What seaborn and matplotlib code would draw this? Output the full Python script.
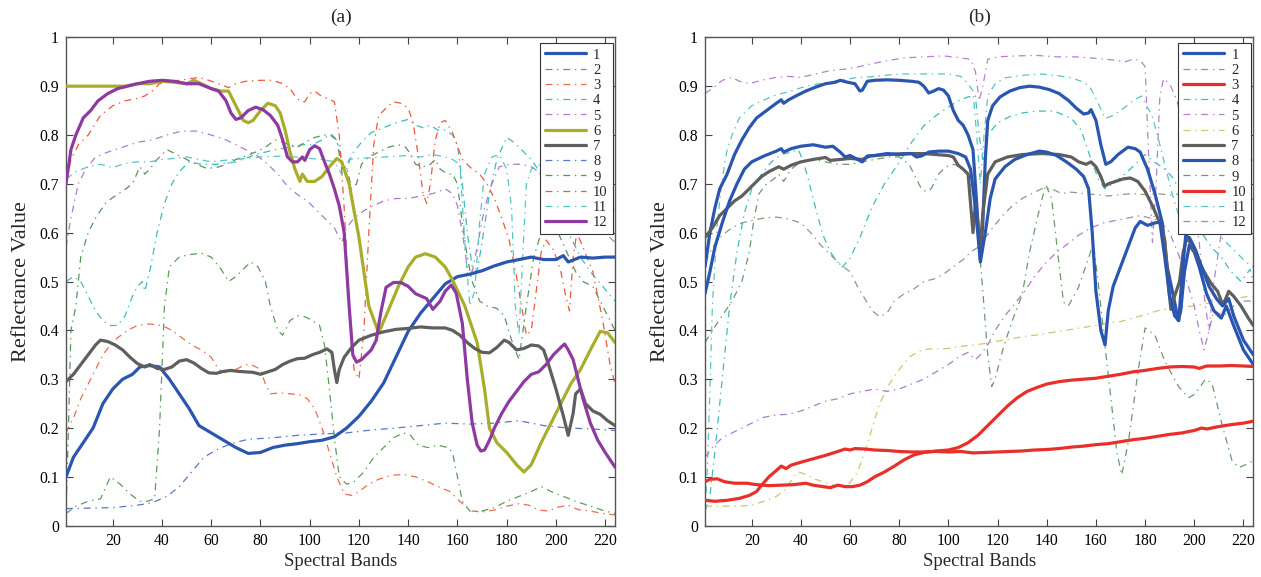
import numpy as np
import matplotlib
matplotlib.use("Agg")
import matplotlib.pyplot as plt
import seaborn as sns

# ---------------------------------------------------------------------------
# Mean spectral signatures: (band, reflectance) pairs for each class
# ---------------------------------------------------------------------------
CLASS_LABELS = [str(i) for i in range(1, 13)]
X_TICKS = [20, 40, 60, 80, 100, 120, 140, 160, 180, 200, 220]
Y_TICKS = [0, 0.1, 0.2, 0.3, 0.4, 0.5, 0.6, 0.7, 0.8, 0.9, 1.0]
Y_TICK_LABELS = ["0", "0.1", "0.2", "0.3", "0.4", "0.5", "0.6", "0.7", "0.8", "0.9", "1"]
PANEL_TITLES = ["(a)", "(b)"]

# ----- scene (a) -----
A1 = [(1, .10), (4, .14), (8, .17), (12, .20), (16, .25), (20, .28), (24, .30), (28, .31), (31, .325),
      (35, .328), (39, .325), (43, .30), (47, .27), (51, .24), (55, .205), (60, .19), (65, .175), (70, .16),
      (75, .148), (80, .15), (85, .16), (90, .165), (95, .168), (100, .172), (105, .175), (110, .182),
      (115, .20), (120, .224), (125, .255), (130, .292), (135, .345), (140, .398), (145, .435), (150, .465),
      (155, .495), (160, .51), (165, .515), (170, .522), (175, .532), (180, .54), (185, .545), (190, .55),
      (195, .545), (200, .545), (203, .553), (205, .54), (210, .55), (215, .548), (220, .55), (224, .55)]
A2 = [(1, .025), (5, .04), (10, .05), (15, .055), (19, .10), (23, .085), (27, .065), (31, .05), (34, .05),
      (37, .055), (39, .2), (41, .45), (43, .53), (47, .55), (51, .555), (56, .558), (60, .55), (64, .525),
      (67, .50), (70, .51), (73, .525), (76, .54), (79, .53), (82, .50), (84, .45), (87, .40), (89, .39),
      (92, .42), (95, .43), (98, .428), (101, .42), (104, .41), (106, .37), (108, .28), (110, .18), (112, .10),
      (115, .085), (118, .09), (122, .11), (126, .14), (130, .16), (134, .18), (138, .19), (141, .185),
      (144, .165), (148, .16), (152, .165), (156, .16), (158, .15), (160, .10), (162, .05), (165, .03),
      (170, .03), (175, .037), (180, .05), (185, .06), (190, .07), (194, .08), (198, .07), (203, .06),
      (208, .05), (214, .04), (220, .03), (224, .025)]
A3 = [(1, .19), (4, .22), (7, .26), (10, .29), (13, .32), (16, .35), (19, .37), (22, .385), (26, .40),
      (30, .41), (35, .413), (40, .41), (44, .40), (48, .385), (52, .37), (56, .36), (60, .345), (63, .32),
      (66, .312), (70, .32), (74, .33), (77, .328), (80, .32), (82, .29), (84, .27), (88, .272), (92, .27),
      (96, .268), (99, .26), (102, .24), (105, .20), (108, .15), (111, .10), (114, .065), (117, .062),
      (120, .07), (124, .085), (128, .095), (133, .103), (138, .105), (143, .10), (148, .09), (153, .078),
      (157, .07), (160, .055), (163, .04), (166, .03), (170, .028), (175, .032), (180, .04), (185, .045),
      (189, .042), (193, .032), (197, .03), (201, .038), (205, .042), (209, .033), (214, .03), (219, .025),
      (224, .022)]
A4 = [(1, .50), (4, .51), (7, .50), (10, .47), (13, .44), (16, .42), (19, .41), (22, .41), (25, .43),
      (28, .47), (30, .49), (32, .50), (33, .48), (35, .52), (38, .60), (41, .66), (44, .70), (47, .725),
      (51, .745), (56, .74), (62, .74), (70, .745), (78, .76), (86, .77), (92, .775), (97, .78), (101, .78),
      (105, .79), (108, .80), (111, .79), (113, .75), (114.5, .72), (117, .76), (121, .785), (125, .805),
      (130, .815), (135, .825), (140, .832), (143, .82), (146, .815), (149, .82), (152, .81), (155, .81),
      (158, .80), (160, .78), (162, .70), (164, .60), (166, .53), (168, .52), (170, .58), (173, .68),
      (176, .75), (180, .795), (183, .785), (186, .77), (190, .75), (194, .72), (198, .68), (202, .63),
      (206, .59), (210, .55), (214, .52), (219, .49), (224, .46)]
A5 = [(1, .57), (3, .63), (6, .70), (9, .73), (13, .755), (18, .765), (24, .775), (30, .785), (36, .79),
      (42, .80), (48, .808), (54, .808), (60, .80), (66, .79), (72, .775), (78, .76), (83, .74), (87, .72),
      (91, .695), (95, .678), (99, .665), (103, .645), (107, .625), (110, .61), (113, .58), (115, .61),
      (118, .63), (122, .645), (126, .655), (130, .665), (135, .67), (140, .67), (145, .675), (150, .68),
      (155, .69), (158, .68), (160, .655), (162, .60), (164, .53), (166, .52), (168, .57), (171, .65),
      (174, .70), (177, .735), (181, .74), (186, .74), (190, .735), (193, .725), (196, .70), (199, .685),
      (203, .67), (208, .65), (213, .63), (218, .61), (224, .58)]
A6 = [(1, .90), (10, .90), (20, .90), (25, .90), (30, .905), (35, .905), (40, .91), (45, .908), (50, .905),
      (53, .912), (56, .905), (60, .895), (64, .89), (67, .89), (70, .86), (73, .83), (75, .825), (77, .83),
      (80, .85), (83, .865), (86, .86), (88, .845), (90, .81), (92, .765), (94, .73), (96, .705), (97, .72),
      (99, .705), (102, .705), (105, .715), (108, .735), (111, .752), (113, .745), (116, .70), (120, .59),
      (124, .45), (128, .395), (131, .43), (136, .49), (140, .53), (143, .55), (147, .557), (151, .55),
      (155, .53), (158, .503), (163, .45), (168, .375), (171, .28), (173, .20), (176, .17), (180, .15),
      (184, .125), (187, .11), (190, .125), (194, .17), (198, .21), (202, .25), (206, .29), (210, .32),
      (214, .36), (218, .398), (221, .395), (224, .375)]
A7 = [(1, .295), (4, .31), (7, .33), (10, .35), (13, .37), (15, .38), (18, .377), (21, .37), (24, .36),
      (27, .345), (30, .332), (33, .325), (35, .33), (38, .322), (41, .32), (44, .325), (47, .337), (50, .34),
      (53, .333), (56, .322), (59, .313), (62, .312), (65, .316), (68, .318), (71, .316), (74, .315),
      (77, .314), (80, .31), (83, .315), (86, .32), (89, .33), (92, .337), (95, .342), (98, .343), (101, .35),
      (104, .355), (107, .362), (109, .355), (110, .32), (111, .293), (112, .32), (114, .345), (117, .365),
      (120, .38), (125, .39), (130, .397), (135, .402), (140, .404), (145, .407), (150, .405), (155, .405),
      (158, .40), (161, .39), (164, .375), (167, .363), (170, .355), (173, .354), (176, .365), (179, .38),
      (181, .375), (184, .36), (187, .363), (190, .37), (193, .368), (195, .36), (197, .33), (200, .28),
      (203, .225), (205, .185), (207, .23), (208, .27), (210, .28), (212, .25), (215, .235), (218, .228),
      (221, .215), (224, .205)]
A8 = [(1, .035), (10, .036), (20, .037), (30, .042), (36, .047), (42, .06), (47, .08), (52, .11), (57, .14),
      (62, .155), (68, .168), (75, .177), (85, .18), (95, .185), (105, .188), (115, .19), (125, .196),
      (135, .20), (145, .205), (155, .21), (165, .208), (175, .21), (185, .215), (195, .205), (205, .20),
      (215, .198), (224, .195)]
A9 = [(1, .03), (2, .2), (3, .4), (5, .45), (7, .55), (10, .60), (13, .63), (17, .66), (20, .672), (24, .685),
      (28, .70), (31, .735), (33, .72), (35, .73), (38, .75), (42, .77), (46, .76), (50, .75), (54, .74),
      (58, .732), (62, .733), (66, .74), (70, .75), (74, .757), (78, .765), (82, .775), (86, .79), (89, .785),
      (92, .78), (95, .775), (98, .785), (102, .795), (106, .80), (109, .80), (111, .79), (113, .73),
      (115, .735), (117, .69), (119, .70), (121, .74), (124, .755), (128, .765), (132, .775), (136, .78),
      (139, .775), (141, .76), (143, .74), (146, .735), (149, .74), (151, .75), (153, .73), (156, .72),
      (158, .72), (160, .70), (162, .62), (164, .55), (166, .50), (169, .46), (172, .45), (176, .445),
      (179, .43), (182, .38), (185, .34), (188, .45), (191, .55), (194, .60), (197, .61), (200, .61),
      (204, .565), (208, .52), (211, .50), (215, .49), (219, .45), (224, .40)]
A10 = [(1, .70), (3, .75), (6, .78), (10, .80), (15, .84), (20, .86), (25, .87), (30, .875), (33, .88),
       (36, .89), (39, .905), (43, .91), (47, .912), (51, .915), (55, .918), (59, .912), (63, .905),
       (67, .897), (70, .905), (74, .91), (80, .912), (85, .912), (89, .905), (92, .895), (94, .88), (96, .87),
       (98, .868), (100, .885), (102, .89), (104, .882), (107, .875), (110, .868), (112, .80), (114, .65),
       (116, .45), (118, .32), (120, .30), (122, .40), (124, .60), (126, .78), (128, .84), (131, .855),
       (134, .868), (137, .865), (140, .855), (142, .825), (144, .76), (146, .68), (147.5, .66), (149, .70),
       (151, .79), (153, .825), (155, .83), (158, .805), (162, .75), (166, .73), (169, .72), (172, .70),
       (175, .67), (178, .63), (181, .585), (184, .51), (186, .45), (188, .39), (190, .40), (192, .48),
       (194, .56), (196, .585), (199, .565), (202, .52), (204, .47), (205.5, .44), (207, .55), (208.5, .60),
       (211, .57), (215, .52), (219, .42), (222, .33), (224, .29)]
A11 = [(1, .71), (5, .725), (10, .735), (15, .74), (20, .733), (25, .742), (30, .745), (35, .745), (40, .75),
       (45, .752), (50, .755), (55, .75), (60, .745), (65, .748), (70, .75), (80, .755), (90, .757),
       (100, .752), (105, .75), (110, .745), (113, .72), (116, .75), (120, .752), (130, .755), (140, .758),
       (145, .755), (150, .76), (155, .755), (158, .75), (161, .74), (163, .58), (165, .45), (167, .48),
       (169, .62), (171, .72), (174, .755), (177, .76), (180, .73), (182, .65), (183.5, .45), (185, .39),
       (186.5, .55), (188, .70), (190, .73), (194, .74), (200, .735), (205, .72), (210, .73), (215, .72),
       (219, .70), (222, .67), (224, .64)]
A12 = [(1, .70), (3, .77), (5, .80), (8, .835), (11, .85), (14, .87), (18, .885), (22, .895), (26, .90),
       (30, .905), (35, .91), (40, .912), (45, .91), (50, .905), (55, .905), (60, .895), (63, .89), (66, .87),
       (68, .845), (70, .832), (72, .835), (75, .85), (78, .857), (81, .852), (84, .84), (87, .82), (89, .79),
       (91, .755), (93, .745), (95, .745), (97, .755), (98, .748), (100, .77), (102, .778), (104, .772),
       (106, .745), (108, .72), (110, .69), (112, .655), (114, .60), (116, .45), (117.5, .35), (119, .335),
       (121, .34), (123, .35), (125, .36), (127, .38), (129, .44), (131, .488), (134, .498), (137, .498),
       (140, .49), (143, .475), (147.5, .465), (150, .443), (153, .46), (155, .48), (157.5, .493),
       (159.5, .476), (162, .414), (164, .30), (166, .21), (168, .165), (169.5, .153), (171, .155),
       (173, .175), (175, .20), (178, .23), (181, .255), (184, .275), (187, .295), (190, .31), (193, .315),
       (196, .33), (199, .35), (202, .365), (203.5, .372), (205, .36), (207, .34), (209, .30), (211, .26),
       (214, .21), (217, .175), (220, .15), (224, .12)]

# ----- scene (b) -----
B1 = [(1, .53), (3, .60), (5, .65), (7, .69), (10, .72), (13, .76), (16, .79), (19, .815), (22, .835),
      (26, .85), (30, .865), (32, .872), (33, .865), (35, .872), (38, .88), (42, .89), (46, .898), (50, .905),
      (54, .908), (56, .912), (59, .908), (62, .905), (64, .89), (65, .892), (67, .91), (70, .912), (75, .913),
      (80, .912), (85, .91), (88, .908), (90, .90), (92, .886), (94, .89), (96, .895), (98, .892), (100, .88),
      (102, .85), (104, .83), (106, .82), (108, .80), (110, .77), (111.5, .66), (113, .545), (114, .62),
      (115, .75), (116, .83), (118, .86), (121, .878), (125, .89), (129, .897), (133, .90), (137, .898),
      (141, .893), (145, .885), (149, .87), (152, .855), (155, .843), (157, .845), (158, .852), (160, .83),
      (162, .78), (164, .74), (166, .745), (169, .76), (173, .775), (176, .772), (178, .765), (181, .73),
      (184, .68), (187, .62), (189, .53), (191.5, .47), (193.5, .42), (194.5, .44), (196, .52), (198, .575),
      (200, .56), (202, .53), (205, .475), (208, .44), (211, .425), (213, .45), (216, .41), (220, .36),
      (224, .33)]
B2 = [(1, .54), (4, .57), (8, .595), (12, .61), (16, .62), (20, .625), (25, .63), (30, .632), (35, .628),
      (40, .62), (44, .60), (48, .575), (52, .555), (56, .535), (60, .52), (63, .49), (66, .465), (69, .44),
      (72, .428), (75, .435), (78, .46), (82, .475), (86, .485), (90, .50), (94, .505), (98, .515), (102, .53),
      (106, .545), (109, .56), (112, .57), (115, .59), (118, .61), (122, .635), (126, .655), (130, .67),
      (134, .68), (138, .69), (142, .69), (146, .68), (150, .683), (155, .68), (160, .678), (165, .675),
      (170, .678), (175, .68), (180, .678), (185, .68), (190, .677), (195, .68), (200, .675), (205, .675),
      (210, .672), (215, .672), (220, .67), (224, .668)]
B3 = [(1, .09), (3, .095), (6, .096), (9, .09), (13, .087), (18, .087), (22, .084), (27, .082), (32, .083),
      (37, .084), (42, .087), (45, .083), (49, .08), (52, .078), (55, .083), (58, .08), (61, .08), (64, .083),
      (67, .09), (70, .10), (74, .11), (78, .122), (82, .135), (86, .145), (90, .15), (95, .153), (100, .155),
      (104, .16), (108, .17), (112, .185), (116, .205), (120, .225), (124, .245), (128, .262), (132, .275),
      (136, .283), (140, .29), (145, .295), (150, .298), (155, .30), (160, .302), (165, .306), (170, .31),
      (175, .315), (180, .318), (185, .322), (190, .325), (195, .326), (200, .325), (202, .322), (205, .327),
      (210, .327), (215, .328), (220, .327), (224, .326)]
B4 = [(1, .03), (3, .06), (5, .15), (8, .30), (11, .45), (14, .56), (17, .64), (20, .69), (24, .72),
      (28, .745), (32, .76), (36, .765), (39, .77), (41, .745), (43, .71), (46, .65), (49, .595), (52, .56),
      (55, .54), (57, .53), (60, .548), (64, .59), (69, .653), (74, .70), (80, .744), (85, .785), (90, .819),
      (95, .84), (100, .857), (104, .87), (108, .878), (111, .88), (112.5, .80), (114, .75), (116, .80),
      (120, .825), (125, .838), (130, .845), (136, .849), (143, .849), (150, .834), (154, .81), (158, .75),
      (161, .71), (163.7, .69), (167, .70), (171.8, .72), (176, .74), (180, .76), (184, .744), (188, .73),
      (191, .714), (195, .68), (199, .64), (203, .60), (207, .57), (211, .55), (215, .52), (219, .50),
      (222.7, .525), (224, .50)]
B5 = [(1, .885), (4, .895), (8, .912), (12, .918), (15, .91), (19, .905), (24, .912), (30, .918), (35, .92),
      (40, .918), (46, .925), (52, .932), (58, .935), (62, .938), (68, .945), (75, .952), (82, .958),
      (90, .96), (98, .962), (105, .958), (109, .955), (111, .93), (112.5, .87), (114, .90), (116, .955),
      (120, .96), (128, .962), (136, .963), (144, .96), (152, .96), (160, .957), (168, .953), (172, .95),
      (175, .955), (178, .953), (180, .94), (181.5, .75), (183, .58), (184.5, .70), (186, .88),
      (187.5, .915), (190, .905), (193, .87), (196, .80), (199, .70), (202, .58), (204.5, .45), (206, .40),
      (208, .50), (211, .60), (214, .66), (218, .70), (221, .73), (224, .75)]
B6 = [(1, .04), (5, .04), (10, .04), (15, .04), (20, .042), (25, .05), (30, .06), (34, .075), (37, .10),
      (39, .11), (42, .105), (46, .095), (50, .088), (54, .082), (57, .08), (60, .088), (63, .11), (66, .15),
      (69, .20), (72, .25), (76, .29), (80, .32), (84, .345), (88, .357), (92, .362), (96, .362), (100, .363),
      (105, .367), (110, .37), (115, .373), (120, .378), (125, .382), (130, .387), (135, .39), (140, .394),
      (145, .398), (150, .402), (155, .406), (160, .41), (165, .415), (170, .418), (175, .425), (180, .432),
      (185, .44), (190, .445), (195, .448), (200, .45), (205, .455), (210, .46), (215, .463), (220, .468),
      (224, .47)]
B7 = [(1, .59), (4, .61), (7, .635), (10, .65), (13, .665), (16, .675), (18, .685), (21, .70), (24, .715),
      (27, .725), (31, .735), (33, .73), (36, .738), (40, .745), (45, .75), (50, .754), (52, .748), (56, .75),
      (60, .752), (65, .75), (68, .757), (75, .76), (82, .762), (90, .762), (95, .76), (100, .758),
      (102, .755), (104, .738), (106, .73), (108, .72), (109, .66), (110, .60), (111, .66), (112, .62),
      (113, .57), (114, .64), (116, .72), (119, .745), (124, .755), (130, .76), (138, .762), (145, .76),
      (150, .755), (153, .745), (156, .74), (158, .745), (160, .735), (162, .715), (163.5, .695), (165, .70),
      (168, .705), (171, .71), (174, .712), (177, .705), (180, .685), (183, .655), (186, .62), (188, .585),
      (189.5, .49), (190.5, .443), (192, .47), (194, .50), (195.5, .56), (197, .59), (199, .575), (201, .55),
      (204, .52), (207, .495), (209.5, .48), (211, .46), (212, .455), (214, .48), (216, .47), (219, .45),
      (222, .425), (224, .41)]
B8 = [(1, .475), (3, .52), (5, .57), (8, .62), (11, .665), (14, .70), (17, .73), (20, .745), (25, .757),
      (30, .767), (32, .772), (33, .765), (36, .772), (40, .777), (45, .78), (50, .775), (53, .777),
      (56, .765), (58, .755), (60, .758), (63, .75), (65, .745), (67, .757), (70, .758), (75, .762),
      (80, .76), (85, .762), (87, .755), (89, .757), (92, .765), (96, .767), (100, .767), (104, .762),
      (107, .755), (109, .73), (111, .65), (113, .54), (115, .60), (117, .67), (119, .71), (123, .735),
      (127, .75), (132, .76), (137, .767), (140, .765), (144, .758), (148, .745), (152, .73), (155, .715),
      (157, .69), (158.5, .60), (160, .48), (162, .40), (163.7, .37), (165, .44), (167, .49), (170, .53),
      (173, .57), (176, .61), (178, .623), (181, .615), (184, .62), (186, .622), (188, .55), (190, .47),
      (192, .43), (193.7, .42), (195, .51), (196.5, .593), (198, .59), (200.5, .565), (203, .53), (206, .49),
      (209, .465), (211.5, .45), (214, .465), (216, .43), (220, .38), (224, .35)]
B9 = [(1, .375), (4, .40), (8, .43), (12, .46), (16, .50), (19, .56), (21, .63), (23, .68), (26, .70),
      (29, .71), (31, .72), (33, .705), (36, .73), (40, .745), (45, .75), (50, .745), (55, .74), (60, .74),
      (65, .745), (70, .75), (76, .755), (80, .755), (84, .74), (87, .71), (89, .69), (91, .684), (93, .69),
      (96, .72), (99, .735), (102, .74), (105, .735), (108, .72), (110, .68), (112, .60), (114, .48),
      (116, .35), (117.6, .285), (119, .30), (121, .34), (123, .375), (126, .42), (130, .473), (133, .56),
      (136.6, .639), (139.6, .699), (142, .669), (144.7, .548), (146.8, .458), (148.8, .45), (152.9, .488),
      (157, .548), (159, .578), (161, .495), (163.7, .367), (166.4, .247), (168.5, .15), (170.5, .104),
      (173.2, .172), (177.3, .322), (180, .405), (184, .39), (188, .337), (193.6, .285), (197.7, .262),
      (200.4, .27), (204.5, .30), (207.2, .292), (211.2, .209), (215.3, .134), (218, .119), (222, .127),
      (224, .134)]
B10 = [(1, .052), (5, .05), (10, .052), (15, .056), (19, .062), (22, .07), (24, .083), (27, .10), (30, .113),
       (32, .122), (34, .117), (36, .124), (40, .13), (45, .137), (50, .144), (55, .152), (58, .157),
       (60, .155), (62, .158), (66, .157), (70, .155), (75, .154), (80, .152), (85, .151), (90, .151),
       (95, .152), (100, .151), (105, .152), (110, .149), (115, .15), (120, .151), (125, .152), (130, .153),
       (135, .155), (140, .156), (145, .158), (150, .161), (155, .163), (160, .166), (165, .168), (170, .172),
       (175, .176), (180, .179), (185, .183), (190, .187), (195, .19), (200, .195), (203, .20), (205, .198),
       (210, .203), (215, .207), (220, .21), (224, .214)]
B11 = [(1, .03), (2, .12), (3, .28), (4, .45), (6, .62), (8, .71), (10, .77), (12, .80), (15, .835),
       (20, .86), (25, .872), (30, .882), (36, .89), (42, .90), (50, .907), (56, .912), (62, .917), (70, .92),
       (80, .925), (90, .925), (100, .925), (105, .92), (108, .905), (110, .89), (111.5, .80), (113, .70),
       (114.5, .80), (116, .88), (119, .905), (123, .917), (130, .922), (137, .925), (144, .922), (150, .917),
       (154, .91), (157, .902), (159, .885), (161, .864), (163.7, .834), (167, .84), (171.8, .857),
       (175, .87), (178.6, .88), (180.5, .86), (182.7, .842), (185, .80), (188, .74), (191, .68), (194, .63),
       (198, .60), (202, .60), (205, .61), (209, .60), (213, .58), (217, .56), (221, .54), (224, .53)]
B12 = [(1, .14), (4, .16), (8, .18), (12, .19), (16, .20), (20, .21), (25, .222), (30, .227), (35, .228),
       (40, .235), (45, .245), (50, .255), (55, .26), (60, .27), (65, .275), (70, .28), (75, .275), (80, .28),
       (85, .29), (90, .30), (95, .315), (100, .33), (104, .345), (108, .355), (111, .34), (113, .35),
       (116, .37), (119, .40), (123, .43), (127, .455), (131, .48), (135, .51), (139, .535), (143, .555),
       (148, .575), (153, .595), (158, .61), (163, .62), (168, .625), (173, .63), (178, .635), (182, .63),
       (186, .625), (190, .60), (194, .55), (197, .50), (200, .45), (202, .40), (204, .36), (206, .40),
       (208, .44), (212, .43), (216, .45), (220, .46), (224, .46)]

CURVES_A = [A1, A2, A3, A4, A5, A6, A7, A8, A9, A10, A11, A12]
CURVES_B = [B1, B2, B3, B4, B5, B6, B7, B8, B9, B10, B11, B12]

# Drawing style per class: (colour, highlighted?)
STYLE_A = [("#2a56b0", True), ("#5c9c5c", False), ("#ee6a50", False), ("#3cbcbc", False),
           ("#b07acc", False), ("#a9ad2c", True), ("#5f5f5f", True), ("#5577cc", False),
           ("#5a945a", False), ("#f0583a", False), ("#55c5c5", False), ("#8e3aa0", True)]
STYLE_B = [("#2a56b0", True), ("#8a9a80", False), ("#e8302a", True), ("#3cbcbc", False),
           ("#b880cc", False), ("#c8c870", False), ("#5f5f5f", True), ("#2a56b0", True),
           ("#6a9a6a", False), ("#e8302a", True), ("#55c5c5", False), ("#b07acc", False)]

DASH_DOT = (0, (5.0, 3.4, 1.0, 3.4))

sns.set_theme(style="ticks")
plt.rcParams["font.family"] = ["Liberation Serif", "DejaVu Serif"]
plt.rcParams["lines.scale_dashes"] = False

fig = plt.figure(figsize=(12.61, 5.77), dpi=100)
ax_a = fig.add_axes([0.05234, 0.0889, 0.43537, 0.8464])
ax_b = fig.add_axes([0.55908, 0.0889, 0.43480, 0.8464])


def draw_panel(ax, curves, styles, title):
    for label, pts, (color, bold) in zip(CLASS_LABELS, curves, styles):
        arr = np.asarray(pts, dtype=float)
        sns.lineplot(x=arr[:, 0], y=arr[:, 1], ax=ax, color=color,
                     linewidth=2.3 if bold else 0.9,
                     linestyle="-" if bold else DASH_DOT,
                     zorder=3 if bold else 2, label=label,
                     estimator=None, sort=False)
    ax.set_xlim(1, 224)
    ax.set_ylim(0, 1)
    ax.set_xticks(X_TICKS)
    ax.set_yticks(Y_TICKS)
    ax.set_yticklabels(Y_TICK_LABELS)
    ax.tick_params(direction="in", length=5, width=0.8, colors="#444444",
                   labelcolor="black", labelsize=11.3, top=True, right=True, pad=5)
    for sp in ax.spines.values():
        sp.set_visible(True)
        sp.set_color("#555555")
        sp.set_linewidth(1.0)
    ax.set_xlabel("Spectral Bands", fontsize=13.5, labelpad=3)
    ax.set_ylabel("Reflectance Value", fontsize=16, labelpad=6)
    ax.set_title(title, fontsize=14, pad=11)
    leg = ax.legend(loc="upper right", bbox_to_anchor=(0.996, 0.988), borderaxespad=0,
                    fontsize=10.5, handlelength=2.8, handletextpad=0.5, labelspacing=0.14,
                    borderpad=0.35, fancybox=False, framealpha=1, edgecolor="#333333")
    leg.get_frame().set_linewidth(0.8)


draw_panel(ax_a, CURVES_A, STYLE_A, PANEL_TITLES[0])
draw_panel(ax_b, CURVES_B, STYLE_B, PANEL_TITLES[1])

fig.savefig("out.png", dpi=100)
